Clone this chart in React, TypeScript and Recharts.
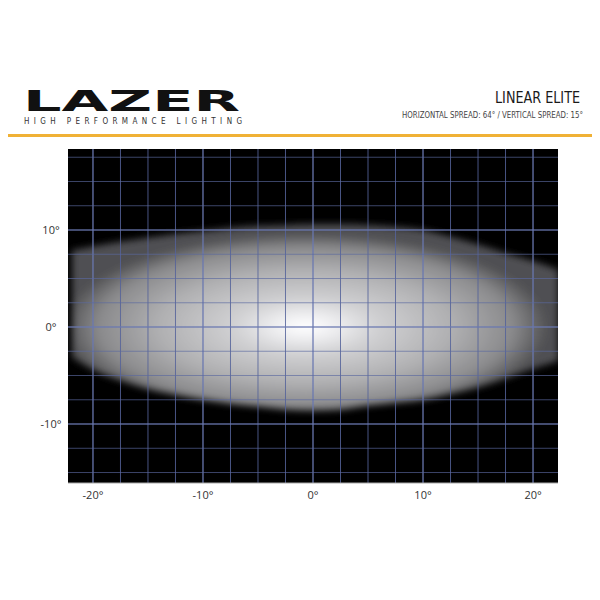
import React from "react"
import {
  Area,
  CartesianGrid,
  ComposedChart,
  ReferenceLine,
  XAxis,
  YAxis,
} from "recharts"

// beam outline, degrees (horizontal angle -> upper / lower edge)
const beamX = [-21.9, -20, -17.5, -15, -12.5, -10, -7.5, -5, -2.5, 0, 2.5, 5, 7.5, 10, 12.5, 15, 17.5, 20, 22.3]
const beamTop = [7.9, 8.3, 8.8, 9.2, 9.6, 9.9, 10.2, 10.4, 10.5, 10.6, 10.6, 10.5, 10.3, 10.0, 9.3, 8.5, 7.6, 6.8, 5.9]
const beamBottom = [-3.1, -4.4, -5.5, -6.4, -7.0, -7.5, -7.9, -8.2, -8.5, -8.6, -8.5, -8.1, -7.8, -7.5, -6.9, -6.2, -5.3, -4.3, -3.5]

const xTicks = [-20, -10, 0, 10, 20]
const yTicks = [-10, 0, 10]
const gridX = [-20, -17.5, -15, -12.5, -10, -7.5, -5, -2.5, 0, 2.5, 5, 7.5, 10, 12.5, 15, 17.5, 20]
const gridY = [-15, -12.5, -10, -7.5, -5, -2.5, 0, 2.5, 5, 7.5, 10, 12.5, 15, 17.5]

const data = beamX.map((x, i) => ({ x, beam: [beamBottom[i], beamTop[i]] }))

const labelFont = "'Open Sans', sans-serif"
const condensed = "'DejaVu Sans Condensed', 'DejaVu Sans', sans-serif"

const YTick = ({ x, y, payload }: any) => (
  <text x={x - 9} y={y} dy={4} textAnchor="middle" fontSize={11} fill="#333" fontFamily={labelFont}>
    {payload.value}°
  </text>
)

function Header() {
  return (
    <svg width={600} height={150} style={{ position: "absolute", left: 0, top: 0, pointerEvents: "none" }}>
      <text
        x={23}
        y={111}
        fontFamily="'DejaVu Sans', sans-serif"
        fontWeight={700}
        fontSize={29}
        textLength={217}
        lengthAdjust="spacingAndGlyphs"
        fill="#111"
      >
        LAZER
      </text>
      <text
        x={24}
        y={124}
        fontFamily={condensed}
        fontSize={8}
        textLength={218}
        lengthAdjust="spacing"
        fill="#333"
      >
        HIGH PERFORMANCE LIGHTING
      </text>
      <text
        x={580}
        y={103}
        textAnchor="end"
        fontFamily={condensed}
        fontSize={16}
        textLength={85}
        lengthAdjust="spacingAndGlyphs"
        fill="#1a1a1a"
      >
        LINEAR ELITE
      </text>
      <text
        x={583}
        y={118}
        textAnchor="end"
        fontFamily={condensed}
        fontSize={8.5}
        textLength={181}
        lengthAdjust="spacingAndGlyphs"
        fill="#444"
      >
        HORIZONTAL SPREAD: 64° / VERTICAL SPREAD: 15°
      </text>
      <rect x={8} y={134} width={584} height={3} fill="#f0b135" />
    </svg>
  )
}

export default function App() {
  return (
    <div style={{ position: "absolute", left: 0, top: 0, width: 600, height: 600, background: "#fff" }}>
      <ComposedChart
        width={600}
        height={600}
        data={data}
        margin={{ top: 149, right: 42, bottom: 87, left: 8 }}
      >
        <defs>
          <radialGradient id="beamGrad" cx="0.48" cy="0.55" r="0.5">
            <stop offset="0" stopColor="#ffffff" />
            <stop offset="0.1" stopColor="#f2f2f4" />
            <stop offset="0.3" stopColor="#d0d0d2" />
            <stop offset="0.6" stopColor="#b0b0b2" />
            <stop offset="0.85" stopColor="#8a8a8c" />
            <stop offset="1" stopColor="#505052" />
          </radialGradient>
          <filter id="beamBlur" x="-10%" y="-20%" width="120%" height="140%">
            <feGaussianBlur stdDeviation="3.5" />
          </filter>
        </defs>
        <CartesianGrid fill="#000" fillOpacity={1} horizontal={false} vertical={false} />
        <XAxis
          type="number"
          dataKey="x"
          domain={[-22.27, 22.27]}
          ticks={xTicks}
          allowDataOverflow
          tickLine={false}
          axisLine={{ stroke: "#aaa" }}
          height={30}
          tick={{ fontSize: 11, fill: "#333", fontFamily: labelFont }}
          tickFormatter={(v: number) => `${v}°`}
        />
        <YAxis
          type="number"
          domain={[-16.08, 18.35]}
          ticks={yTicks}
          allowDataOverflow
          tickLine={false}
          axisLine={false}
          width={60}
          tick={<YTick />}
        />
        <Area
          dataKey="beam"
          type="monotone"
          stroke="none"
          fill="url(#beamGrad)"
          fillOpacity={1}
          filter="url(#beamBlur)"
          isAnimationActive={false}
        />
        {gridX.map((v) => (
          <ReferenceLine
            key={"gx" + v}
            x={v}
            stroke={v % 10 === 0 ? "#6a78b0" : "#55639a"}
            strokeWidth={v % 10 === 0 ? 1.5 : 1}
            strokeOpacity={0.85}
          />
        ))}
        {gridY.map((v) => (
          <ReferenceLine
            key={"gy" + v}
            y={v}
            stroke={v % 10 === 0 ? "#6a78b0" : "#5a68a0"}
            strokeWidth={v % 10 === 0 ? 1.5 : 1}
            strokeOpacity={v % 10 === 0 ? 0.85 : 0.65}
          />
        ))}
      </ComposedChart>
      <Header />
    </div>
  )
}
